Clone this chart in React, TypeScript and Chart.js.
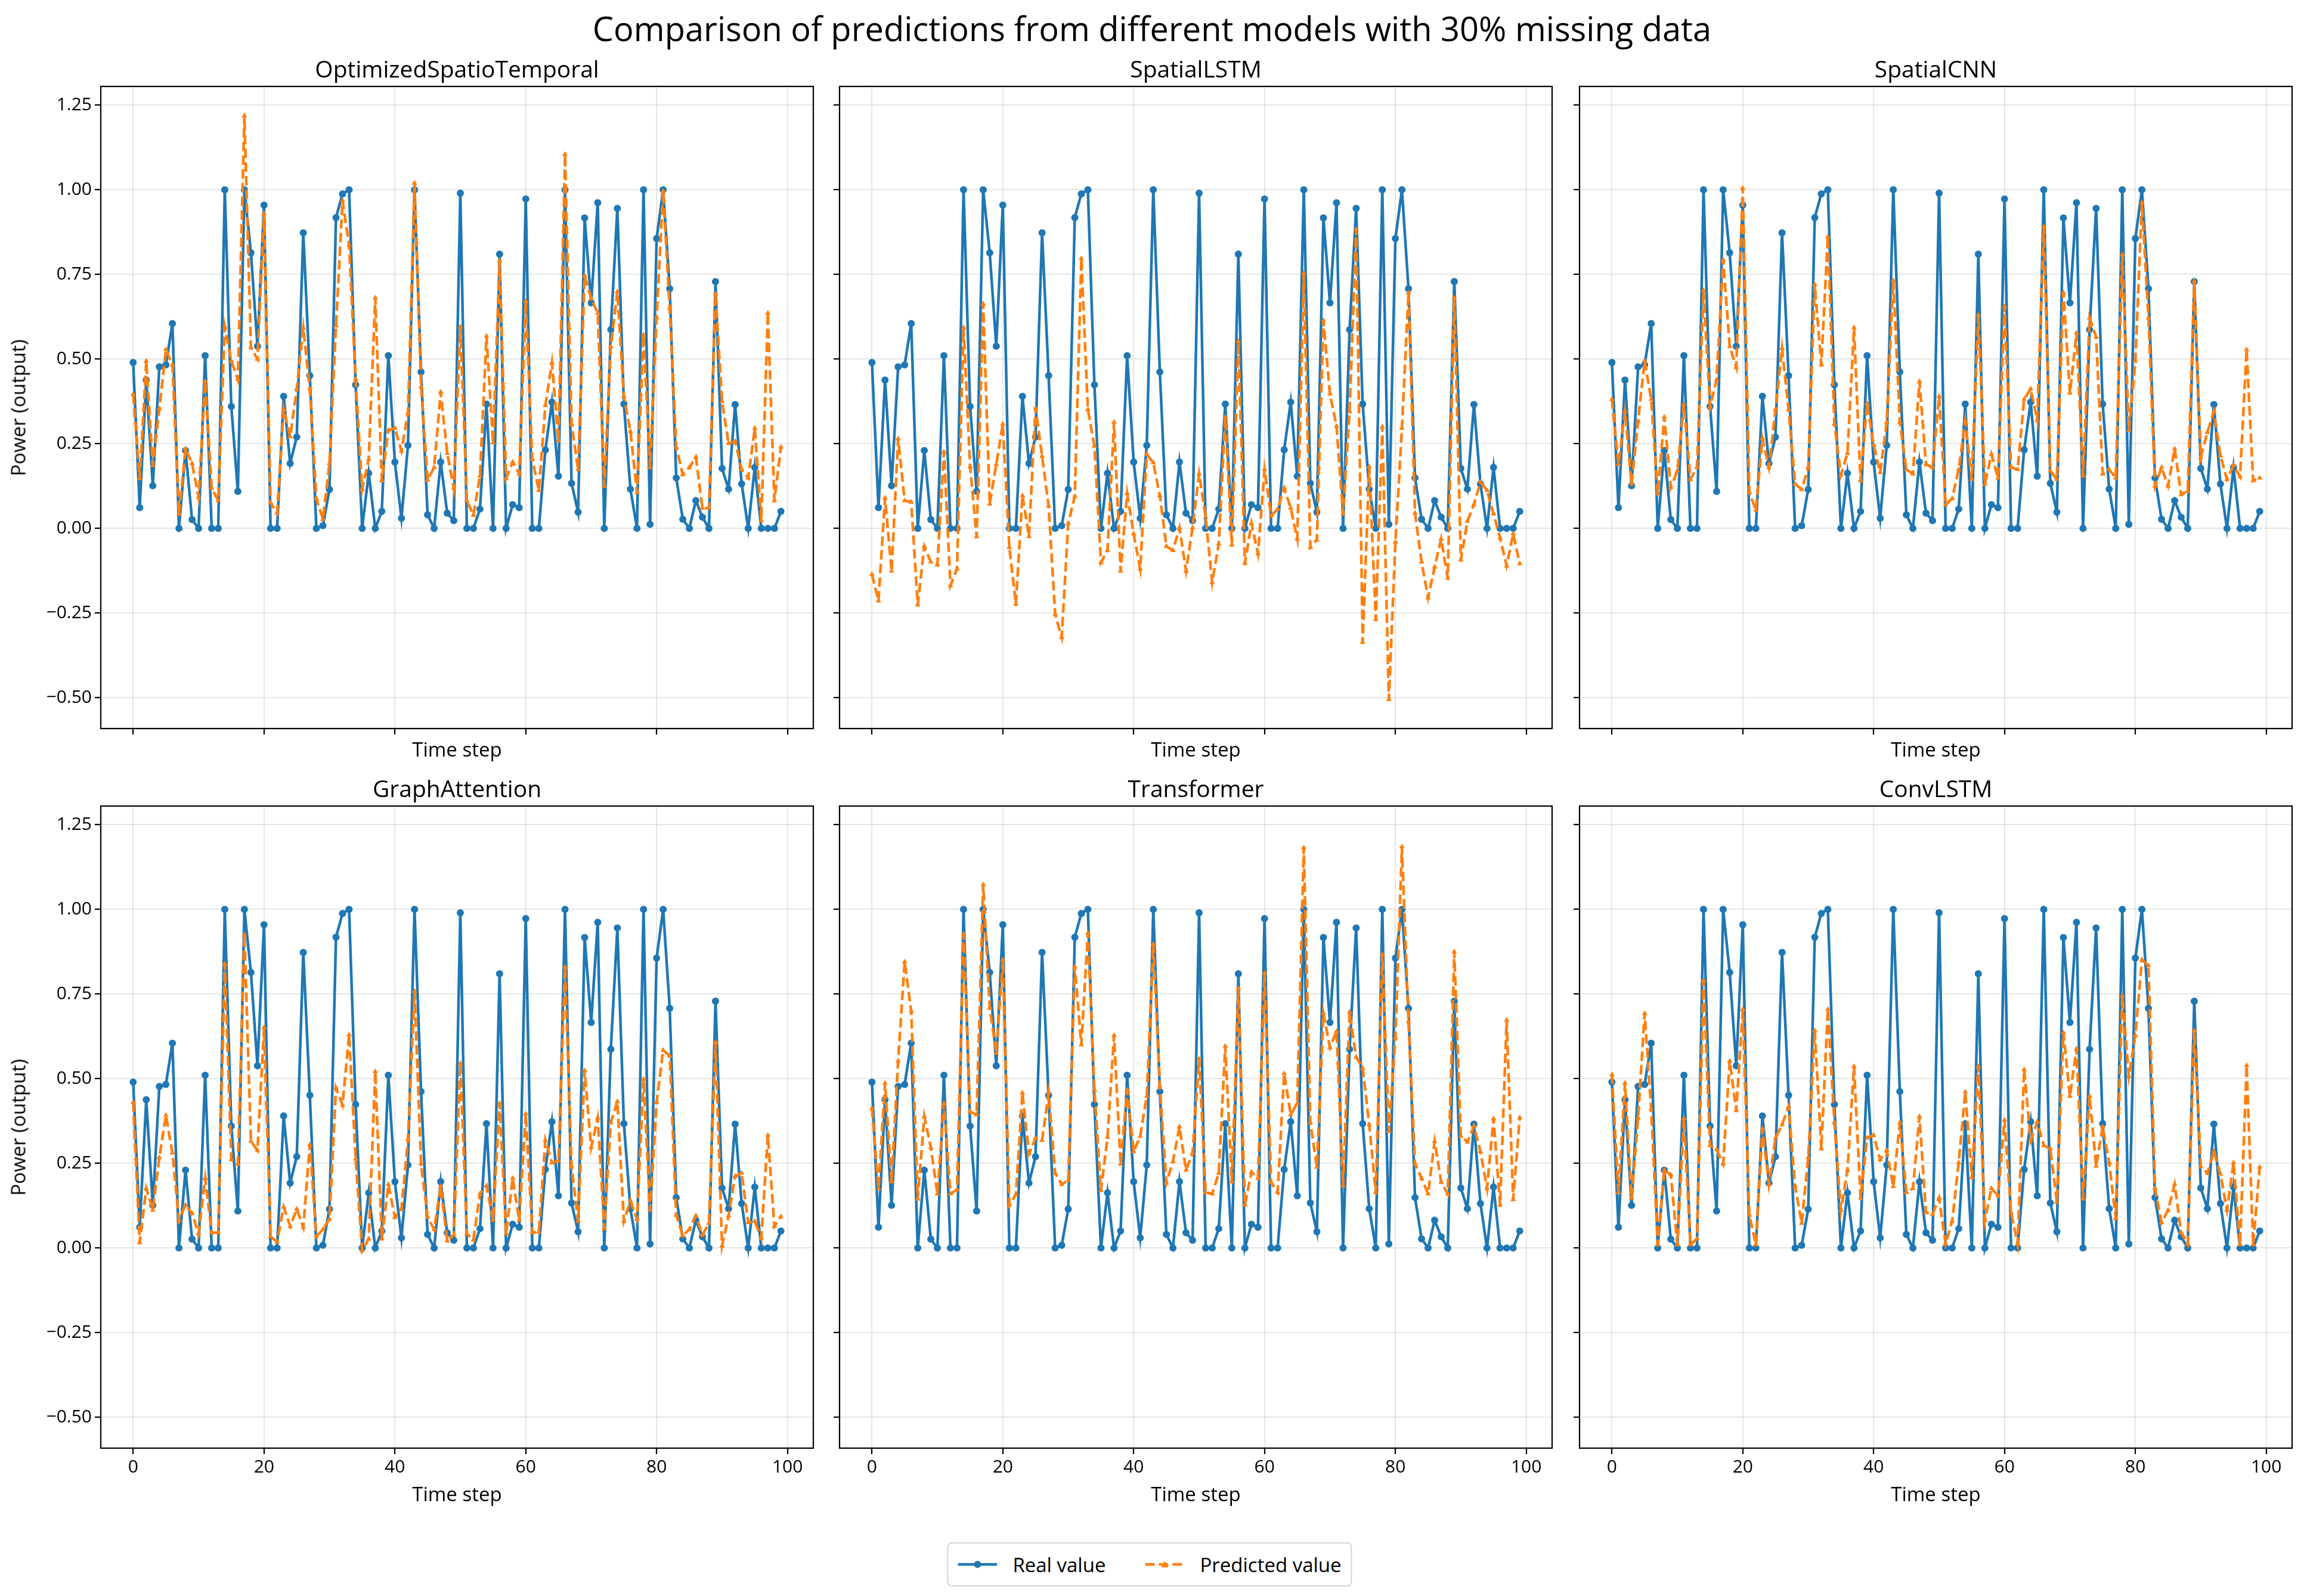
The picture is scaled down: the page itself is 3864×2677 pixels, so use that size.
import React, { useEffect, useRef } from 'react';
import { Chart, LineController, LineElement, PointElement, LinearScale } from 'chart.js';

Chart.register(LineController, LineElement, PointElement, LinearScale);

// ---- data ----
const MODELS = ['OptimizedSpatioTemporal', 'SpatialLSTM', 'SpatialCNN', 'GraphAttention', 'Transformer', 'ConvLSTM'];

const REAL = [
  0.49, 0.061, 0.438, 0.126, 0.477, 0.483, 0.605, 0.0, 0.23, 0.026,
  0.0, 0.51, 0.0, 0.0, 1.0, 0.36, 0.109, 1.0, 0.814, 0.538,
  0.955, 0.0, 0.0, 0.39, 0.192, 0.27, 0.873, 0.451, 0.0, 0.008,
  0.115, 0.918, 0.988, 1.0, 0.424, 0.0, 0.163, 0.0, 0.05, 0.51,
  0.196, 0.03, 0.245, 1.0, 0.462, 0.04, 0.0, 0.196, 0.045, 0.023,
  0.99, 0.0, 0.0, 0.057, 0.367, 0.0, 0.81, 0.0, 0.07, 0.061,
  0.973, 0.0, 0.0, 0.232, 0.373, 0.154, 1.0, 0.133, 0.048, 0.917,
  0.666, 0.962, 0.0, 0.587, 0.945, 0.367, 0.116, 0.0, 1.0, 0.012,
  0.856, 1.0, 0.708, 0.149, 0.027, 0.0, 0.082, 0.033, 0.0, 0.729,
  0.177, 0.116, 0.366, 0.131, 0.0, 0.18, 0.0, 0.0, 0.0, 0.05,
];

const PRED_OST = [
  0.396, 0.147, 0.494, 0.186, 0.353, 0.528, 0.483, 0.042, 0.235, 0.192,
  0.092, 0.434, 0.119, 0.082, 0.595, 0.494, 0.44, 1.219, 0.534, 0.5,
  0.93, 0.076, 0.045, 0.351, 0.271, 0.412, 0.592, 0.412, 0.088, 0.027,
  0.192, 0.598, 0.968, 0.836, 0.44, 0.115, 0.204, 0.681, 0.141, 0.29,
  0.296, 0.229, 0.341, 1.02, 0.418, 0.143, 0.18, 0.403, 0.222, 0.119,
  0.595, 0.082, 0.039, 0.155, 0.568, 0.253, 0.791, 0.147, 0.196, 0.161,
  0.671, 0.204, 0.112, 0.363, 0.489, 0.259, 1.105, 0.308, 0.174, 0.746,
  0.678, 0.636, 0.125, 0.537, 0.699, 0.39, 0.287, 0.106, 0.571, 0.18,
  0.623, 0.996, 0.65, 0.24, 0.159, 0.18, 0.21, 0.06, 0.06, 0.693,
  0.375, 0.251, 0.257, 0.174, 0.149, 0.296, 0.023, 0.636, 0.082, 0.24,
];

const PRED_SLSTM = [
  -0.136, -0.214, 0.09, -0.126, 0.265, 0.082, 0.078, -0.226, -0.053, -0.099,
  -0.108, 0.226, -0.169, -0.12, 0.593, 0.182, -0.024, 0.663, 0.072, 0.189,
  0.308, -0.056, -0.224, 0.097, -0.024, 0.355, 0.213, 0.067, -0.254, -0.322,
  0.015, 0.094, 0.797, 0.351, 0.243, -0.101, -0.065, 0.314, -0.126, 0.103,
  -0.016, -0.12, 0.219, 0.194, 0.097, -0.053, -0.065, 0.002, -0.126, 0.002,
  0.161, 0.033, -0.16, -0.046, 0.329, -0.049, 0.553, -0.104, 0.015, -0.075,
  0.174, 0.037, 0.057, 0.119, 0.06, -0.031, 0.754, -0.056, -0.034, 0.614,
  0.397, 0.302, 0.042, 0.345, 0.883, -0.336, 0.182, -0.269, 0.3, -0.505,
  -0.04, 0.296, 0.696, 0.045, -0.099, -0.205, -0.114, -0.031, -0.147, 0.681,
  -0.093, 0.021, 0.07, 0.137, 0.112, 0.043, -0.028, -0.111, -0.016, -0.104,
];

const PRED_SCNN = [
  0.381, 0.189, 0.345, 0.131, 0.317, 0.495, 0.381, 0.103, 0.329, 0.121,
  0.17, 0.366, 0.145, 0.18, 0.703, 0.359, 0.439, 0.793, 0.537, 0.476,
  1.005, 0.106, 0.054, 0.265, 0.18, 0.351, 0.532, 0.351, 0.131, 0.115,
  0.18, 0.72, 0.483, 0.861, 0.308, 0.158, 0.222, 0.593, 0.141, 0.369,
  0.247, 0.165, 0.314, 0.732, 0.314, 0.174, 0.161, 0.434, 0.189, 0.18,
  0.39, 0.07, 0.088, 0.174, 0.317, 0.145, 0.63, 0.131, 0.219, 0.149,
  0.656, 0.18, 0.174, 0.381, 0.412, 0.32, 0.891, 0.17, 0.145, 0.696,
  0.4, 0.577, 0.155, 0.622, 0.565, 0.161, 0.174, 0.149, 0.809, 0.29,
  0.494, 0.962, 0.622, 0.125, 0.18, 0.125, 0.235, 0.1, 0.11, 0.73,
  0.21, 0.284, 0.345, 0.214, 0.145, 0.186, 0.153, 0.528, 0.141, 0.149,
];

const PRED_GAT = [
  0.43, 0.016, 0.176, 0.112, 0.267, 0.392, 0.281, 0.082, 0.127, 0.103,
  0.042, 0.206, 0.045, 0.046, 0.839, 0.261, 0.248, 0.924, 0.315, 0.288,
  0.651, 0.034, 0.018, 0.121, 0.064, 0.115, 0.061, 0.305, 0.034, 0.055,
  0.085, 0.473, 0.422, 0.63, 0.263, -0.008, 0.027, 0.521, 0.027, 0.188,
  0.091, 0.115, 0.321, 0.758, 0.248, 0.091, 0.055, 0.182, 0.021, 0.039,
  0.545, 0.042, 0.024, 0.16, 0.184, 0.082, 0.427, 0.042, 0.206, 0.082,
  0.396, 0.045, 0.048, 0.318, 0.252, 0.257, 0.83, 0.242, 0.079, 0.524,
  0.297, 0.384, 0.058, 0.37, 0.433, 0.079, 0.139, 0.085, 0.499, 0.112,
  0.43, 0.584, 0.567, 0.097, 0.036, 0.055, 0.095, 0.039, 0.073, 0.608,
  0.006, 0.095, 0.212, 0.221, 0.075, 0.079, 0.03, 0.333, 0.064, 0.093,
];

const PRED_TRANS = [
  0.412, 0.176, 0.487, 0.196, 0.552, 0.845, 0.7, 0.145, 0.388, 0.297,
  0.16, 0.427, 0.16, 0.172, 0.927, 0.402, 0.394, 1.073, 0.709, 0.576,
  0.851, 0.127, 0.158, 0.458, 0.279, 0.324, 0.318, 0.458, 0.221, 0.188,
  0.2, 0.83, 0.6, 0.93, 0.467, 0.17, 0.327, 0.628, 0.248, 0.467,
  0.285, 0.33, 0.448, 0.897, 0.479, 0.192, 0.255, 0.358, 0.23, 0.281,
  0.558, 0.164, 0.16, 0.221, 0.596, 0.196, 0.766, 0.127, 0.224, 0.206,
  0.812, 0.194, 0.164, 0.515, 0.394, 0.427, 1.182, 0.37, 0.239, 0.693,
  0.592, 0.64, 0.184, 0.697, 0.564, 0.531, 0.364, 0.164, 0.867, 0.345,
  0.621, 1.185, 0.669, 0.248, 0.206, 0.16, 0.315, 0.194, 0.16, 0.875,
  0.33, 0.313, 0.36, 0.285, 0.176, 0.382, 0.127, 0.673, 0.143, 0.385,
];

const PRED_CONVLSTM = [
  0.512, 0.164, 0.487, 0.148, 0.384, 0.693, 0.41, 0.01, 0.23, 0.216,
  0.01, 0.382, 0.01, 0.027, 0.79, 0.303, 0.291, 0.248, 0.552, 0.406,
  0.705, 0.097, 0.01, 0.352, 0.188, 0.325, 0.364, 0.418, 0.182, 0.073,
  0.267, 0.642, 0.293, 0.705, 0.37, 0.112, 0.23, 0.536, 0.148, 0.325,
  0.333, 0.261, 0.288, 0.182, 0.37, 0.164, 0.176, 0.388, 0.105, 0.099,
  0.148, 0.012, 0.079, 0.252, 0.461, 0.208, 0.536, 0.081, 0.176, 0.155,
  0.378, 0.105, 0.012, 0.527, 0.318, 0.372, 0.303, 0.293, 0.136, 0.636,
  0.448, 0.588, 0.145, 0.448, 0.242, 0.358, 0.252, 0.087, 0.745, 0.507,
  0.628, 0.851, 0.834, 0.176, 0.075, 0.112, 0.188, 0.046, 0.012, 0.642,
  0.24, 0.221, 0.285, 0.218, 0.112, 0.252, 0.01, 0.539, 0.01, 0.239,
];

const PREDICTIONS = [PRED_OST, PRED_SLSTM, PRED_SCNN, PRED_GAT, PRED_TRANS, PRED_CONVLSTM];

const X_TICKS = [0, 20, 40, 60, 80, 100];
const Y_TICKS = [-0.5, -0.25, 0, 0.25, 0.5, 0.75, 1.0, 1.25];

// ---- layout ----
const FONT = '"Open Sans", "Noto Sans", sans-serif';
const BLUE = '#1f77b4';
const ORANGE = '#ff7f0e';
const GRID = 'rgba(176,176,176,0.32)';

const COL_LEFT = [169, 1408, 2649];
const ROW_TOP = [145, 1352];
const PLOT_W = 1195;
const PLOT_H = 1077;
const PAD_T = 40;
const PAD_R = 10;
const PAD_B = 60;

// axis limits with matplotlib's 5% margins
const N = REAL.length;
const X_MIN = -(N - 1) * 0.05;
const X_MAX = (N - 1) * 1.05;
const allVals = [REAL, ...PREDICTIONS].flat();
const lo = Math.min(...allVals);
const hi = Math.max(...allVals);
const Y_MIN = lo - (hi - lo) * 0.05;
const Y_MAX = hi + (hi - lo) * 0.05;

const framePlugin = {
  id: 'frame',
  afterDraw(chart: any) {
    const { ctx, chartArea: a } = chart;
    ctx.save();
    ctx.strokeStyle = '#000';
    ctx.lineWidth = 2.2;
    ctx.strokeRect(a.left, a.top, a.right - a.left, a.bottom - a.top);
    ctx.restore();
  },
};

function Panel({ idx }: { idx: number }) {
  const canvasRef = useRef<HTMLCanvasElement>(null);
  const col = idx % 3;
  const row = Math.floor(idx / 3);
  const padL = col === 0 ? 165 : 14;
  const w = padL + PLOT_W + PAD_R;
  const h = PAD_T + PLOT_H + PAD_B;

  useEffect(() => {
    if (!canvasRef.current) return;
    const pred = PREDICTIONS[idx];
    const chart = new Chart(canvasRef.current, {
      type: 'line',
      data: {
        datasets: [
          {
            label: 'Predicted value',
            data: pred.map((v, i) => ({ x: i, y: v })),
            borderColor: ORANGE,
            backgroundColor: ORANGE,
            borderWidth: 4.5,
            borderDash: [16, 7],
            pointStyle: 'triangle',
            pointRadius: 4.5,
            pointBorderWidth: 1,
            pointBackgroundColor: ORANGE,
            pointBorderColor: ORANGE,
            tension: 0,
            order: 0,
          },
          {
            label: 'Real value',
            data: REAL.map((v, i) => ({ x: i, y: v })),
            borderColor: BLUE,
            backgroundColor: BLUE,
            borderWidth: 4.5,
            pointStyle: 'circle',
            pointRadius: 6,
            pointBorderWidth: 0,
            pointBackgroundColor: BLUE,
            tension: 0,
            order: 1,
          },
        ],
      },
      options: {
        animation: false,
        responsive: false,
        maintainAspectRatio: false,
        devicePixelRatio: 1,
        layout: { padding: { left: 0, top: PAD_T, right: PAD_R, bottom: 0 } },
        plugins: { legend: { display: false }, tooltip: { enabled: false } },
        scales: {
          x: {
            type: 'linear',
            min: X_MIN,
            max: X_MAX,
            afterBuildTicks: (s: any) => { s.ticks = X_TICKS.map((v) => ({ value: v })); },
            afterFit: (s: any) => { s.height = PAD_B; },
            ticks: {
              display: row === 1,
              color: '#000',
              font: { family: FONT, size: 30 },
              padding: 4,
              maxRotation: 0,
              autoSkip: false,
              callback: (v: any) => String(v),
            },
            grid: { color: GRID, lineWidth: 2, tickColor: '#000', tickLength: 10, tickWidth: 2.2 },
            border: { display: false },
          },
          y: {
            type: 'linear',
            min: Y_MIN,
            max: Y_MAX,
            afterBuildTicks: (s: any) => { s.ticks = Y_TICKS.map((v) => ({ value: v })); },
            afterFit: (s: any) => { s.width = padL; },
            ticks: {
              display: col === 0,
              color: '#000',
              font: { family: FONT, size: 30 },
              padding: 5,
              autoSkip: false,
              callback: (v: any) => Number(v).toFixed(2).replace('-', '\u2212'),
            },
            grid: { color: GRID, lineWidth: 2, tickColor: '#000', tickLength: 10, tickWidth: 2.2 },
            border: { display: false },
          },
        },
      },
      plugins: [framePlugin],
    } as any);
    return () => chart.destroy();
  }, []);

  return (
    <canvas
      ref={canvasRef}
      width={w}
      height={h}
      style={{ position: 'absolute', left: COL_LEFT[col] - padL, top: ROW_TOP[row] - PAD_T, width: w, height: h }}
    />
  );
}

function Label({ x, y, text, size, rotate }: { x: number; y: number; text: string; size: number; rotate?: boolean }) {
  return (
    <div
      style={{
        position: 'absolute',
        left: x,
        top: y,
        transform: `translate(-50%, -50%)${rotate ? ' rotate(-90deg)' : ''}`,
        fontSize: size,
        lineHeight: 1,
        whiteSpace: 'nowrap',
        color: '#000',
      }}
    >
      {text}
    </div>
  );
}

function Legend() {
  return (
    <div
      style={{
        position: 'absolute',
        left: 1928,
        top: 2587,
        height: 74,
        transform: 'translateX(-50%)',
        boxSizing: 'border-box',
        border: '2px solid #d4d4d4',
        borderRadius: 8,
        padding: '0 16px',
        display: 'flex',
        alignItems: 'center',
        fontSize: 33,
        whiteSpace: 'nowrap',
        background: '#fff',
      }}
    >
      <svg width={66} height={30} style={{ marginRight: 26 }}>
        <line x1={0} y1={15} x2={66} y2={15} stroke={BLUE} strokeWidth={4.5} />
        <circle cx={33} cy={15} r={6} fill={BLUE} />
      </svg>
      <span style={{ marginRight: 66 }}>Real value</span>
      <svg width={66} height={30} style={{ marginRight: 26 }}>
        <line x1={0} y1={15} x2={66} y2={15} stroke={ORANGE} strokeWidth={4.5} strokeDasharray="16 7" />
        <polygon points="33,9 39,20 27,20" fill={ORANGE} />
      </svg>
      <span>Predicted value</span>
    </div>
  );
}

export default function App() {
  return (
    <div
      style={{
        position: 'absolute',
        left: 0,
        top: 0,
        width: 3864,
        height: 2677,
        background: '#fff',
        overflow: 'hidden',
        fontFamily: FONT,
      }}
    >
      {MODELS.map((m, i) => <Panel key={m} idx={i} />)}
      <Label x={1932} y={47} text="Comparison of predictions from different models with 30% missing data" size={56} />
      {MODELS.map((m, i) => {
        const col = i % 3;
        const row = Math.floor(i / 3);
        const cx = COL_LEFT[col] + PLOT_W / 2;
        return (
          <React.Fragment key={m}>
            <Label x={cx} y={ROW_TOP[row] - 31} text={m} size={39} />
            <Label x={cx} y={ROW_TOP[row] + PLOT_H + (row === 0 ? 34 : 76)} text="Time step" size={33} />
          </React.Fragment>
        );
      })}
      {ROW_TOP.map((t) => (
        <Label key={t} x={30} y={t + PLOT_H / 2} text="Power (output)" size={33} rotate />
      ))}
      <Legend />
    </div>
  );
}
